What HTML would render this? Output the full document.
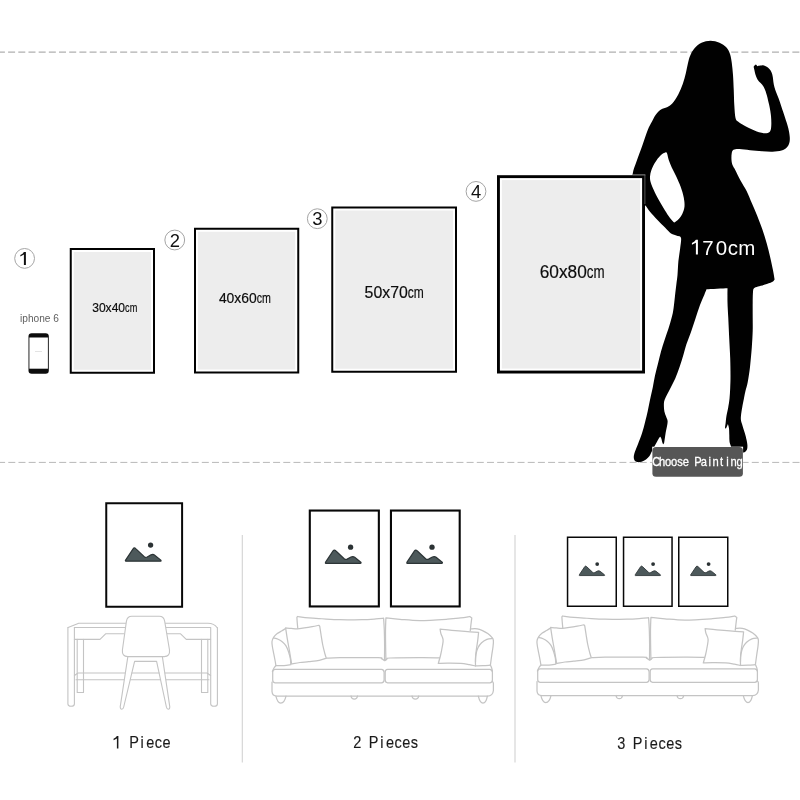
<!DOCTYPE html>
<html><head><meta charset="utf-8"><title>Size guide</title>
<style>
html,body{margin:0;padding:0;background:#fff;}
body{width:800px;height:800px;overflow:hidden;font-family:'Liberation Sans',sans-serif;}
svg{display:block;}
</style></head><body>
<svg width="800" height="800" viewBox="0 0 800 800" font-family="'Liberation Sans', sans-serif">
<defs>
<g id="mtn"><path d="M1.3,-0.6 Q0.4,-0.7 1,-1.7 L8.5,-13 Q9.7,-14.6 11.1,-13.2 L19.6,-5.2 Q21,-4 22.6,-4.8 L26.4,-6.9 Q28.5,-7.9 30.1,-6.6 L36.2,-1.7 Q37,-0.6 35.6,-0.6 Z" fill="#4d595b" stroke="#2c3436" stroke-width="1.2" stroke-linejoin="round"/><circle cx="26" cy="-16.7" r="2.65" fill="#2b3234"/></g>
</defs>
<rect width="800" height="800" fill="#fff"/>
<g opacity="0.999">
<line x1="-2.085" y1="52.1" x2="800" y2="52.2" stroke="#b0b0b0" stroke-width="1.15" stroke-dasharray="7 3.185"/>
<line x1="-1.9" y1="462.4" x2="800" y2="462.4" stroke="#b8b8b8" stroke-width="1.0" stroke-dasharray="7 3.185"/>
<path d="M710.50,40.80 C713.50,40.80 716.88,41.67 719.50,42.75 C722.12,43.83 724.50,45.38 726.25,47.25 C728.00,49.12 729.08,51.38 730.00,54.00 C730.92,56.62 731.30,59.50 731.80,63.00 C732.30,66.50 732.67,70.50 733.00,75.00 C733.33,79.50 733.53,85.00 733.75,90.00 C733.97,95.00 734.01,100.33 734.30,105.00 C734.59,109.67 734.88,115.25 735.50,118.00 C736.12,120.75 736.83,120.42 738.00,121.50 C739.17,122.58 740.50,123.33 742.50,124.50 C744.50,125.67 747.25,127.20 750.00,128.50 C752.75,129.80 756.25,131.51 759.00,132.30 C761.75,133.09 764.62,133.47 766.50,133.25 C768.38,133.03 769.45,132.38 770.25,131.00 C771.05,129.62 771.17,127.50 771.30,125.00 C771.42,122.50 771.28,119.00 771.00,116.00 C770.72,113.00 770.08,109.57 769.60,107.00 C769.12,104.43 768.55,102.50 768.10,100.60 C767.65,98.70 767.32,97.16 766.90,95.60 C766.48,94.04 766.12,92.70 765.60,91.25 C765.08,89.80 764.58,88.26 763.75,86.90 C762.92,85.54 761.64,84.35 760.60,83.10 C759.56,81.85 758.33,80.75 757.50,79.40 C756.67,78.05 756.12,76.57 755.60,75.00 C755.08,73.43 754.71,71.40 754.40,70.00 C754.09,68.60 753.50,67.52 753.75,66.60 C754.00,65.68 755.54,64.85 755.90,64.50 C756.17,64.79 757.23,65.96 757.50,66.25 C757.92,66.14 759.07,65.76 760.00,65.60 C760.93,65.44 762.06,65.13 763.10,65.30 C764.14,65.47 765.20,65.97 766.25,66.60 C767.30,67.23 768.51,68.12 769.40,69.10 C770.29,70.08 771.03,71.20 771.60,72.50 C772.17,73.80 772.50,75.33 772.80,76.90 C773.10,78.47 773.13,80.23 773.40,81.90 C773.67,83.57 773.92,85.13 774.40,86.90 C774.88,88.67 775.52,90.53 776.25,92.50 C776.98,94.47 777.88,96.33 778.75,98.75 C779.62,101.17 780.46,103.88 781.50,107.00 C782.54,110.12 783.88,114.00 785.00,117.50 C786.12,121.00 787.46,124.75 788.25,128.00 C789.04,131.25 789.58,134.50 789.75,137.00 C789.92,139.50 789.80,141.25 789.30,143.00 C788.80,144.75 788.05,146.25 786.75,147.50 C785.45,148.75 783.88,149.80 781.50,150.50 C779.12,151.20 775.75,151.57 772.50,151.70 C769.25,151.82 765.75,151.50 762.00,151.25 C758.25,151.00 753.75,150.57 750.00,150.20 C746.25,149.82 742.25,149.07 739.50,149.00 C736.75,148.93 734.80,149.00 733.50,149.75 C732.20,150.50 732.03,151.79 731.70,153.50 C731.37,155.21 731.37,158.08 731.50,160.00 C731.63,161.92 731.88,163.33 732.50,165.00 C733.12,166.67 733.92,167.42 735.25,170.00 C736.58,172.58 738.61,177.00 740.50,180.50 C742.39,184.00 744.70,187.21 746.60,191.00 C748.50,194.79 750.15,199.17 751.90,203.25 C753.65,207.33 755.35,211.12 757.10,215.50 C758.85,219.88 760.79,224.83 762.40,229.50 C764.01,234.17 765.44,238.83 766.75,243.50 C768.06,248.17 769.23,253.12 770.25,257.50 C771.27,261.88 772.17,266.10 772.90,269.75 C773.62,273.40 774.32,277.79 774.60,279.40 C774.17,279.83 773.60,281.13 772.00,282.00 C770.40,282.87 767.33,283.87 765.00,284.60 C762.67,285.33 759.83,285.80 758.00,286.40 C756.17,287.00 754.83,287.27 754.00,288.20 C753.17,289.13 753.22,289.62 753.00,292.00 C752.78,294.38 752.75,298.25 752.70,302.50 C752.65,306.75 752.70,312.75 752.70,317.50 C752.70,322.25 752.85,326.00 752.70,331.00 C752.55,336.00 752.25,341.50 751.80,347.50 C751.35,353.50 750.67,361.25 750.00,367.00 C749.33,372.75 748.54,377.83 747.75,382.00 C746.96,386.17 745.89,389.21 745.25,392.00 C744.61,394.79 744.41,396.17 743.90,398.75 C743.39,401.33 742.68,404.73 742.20,407.50 C741.72,410.27 741.20,413.22 741.00,415.40 C740.80,417.58 740.73,418.85 741.00,420.60 C741.27,422.35 741.97,423.85 742.60,425.90 C743.23,427.95 744.13,430.57 744.80,432.90 C745.47,435.23 746.17,437.87 746.60,439.90 C747.03,441.93 747.33,443.50 747.40,445.10 C747.47,446.70 747.43,448.33 747.00,449.50 C746.57,450.67 745.45,451.58 744.80,452.10 C744.15,452.62 744.23,452.45 743.10,452.60 C741.97,452.75 739.68,453.10 738.00,453.00 C736.32,452.90 734.20,453.17 733.00,452.00 C731.80,450.83 731.38,447.73 730.80,446.00 C730.22,444.27 729.75,443.35 729.50,441.60 C729.25,439.85 729.38,437.68 729.30,435.50 C729.22,433.32 729.23,430.40 729.00,428.50 C728.77,426.60 728.08,424.83 727.90,424.10 C727.58,424.83 726.49,427.92 726.00,428.50 C725.51,429.08 725.12,427.75 724.95,427.60 C725.06,426.88 725.36,425.14 725.60,423.25 C725.84,421.36 725.97,418.88 726.40,416.25 C726.83,413.62 727.68,410.42 728.20,407.50 C728.72,404.58 729.17,402.00 729.50,398.75 C729.83,395.50 730.03,391.79 730.20,388.00 C730.37,384.21 730.50,381.00 730.50,376.00 C730.50,371.00 730.40,364.00 730.20,358.00 C730.00,352.00 729.62,346.75 729.30,340.00 C728.97,333.25 728.55,323.75 728.25,317.50 C727.95,311.25 727.62,307.38 727.50,302.50 C727.38,297.62 727.50,290.62 727.50,288.25 C724.00,288.43 710.00,289.12 706.50,289.30 C706.12,290.25 705.33,292.38 704.25,295.00 C703.17,297.62 701.46,301.08 700.00,305.00 C698.54,308.92 697.00,314.00 695.50,318.50 C694.00,323.00 692.50,327.75 691.00,332.00 C689.50,336.25 687.75,340.25 686.50,344.00 C685.25,347.75 684.62,350.75 683.50,354.50 C682.38,358.25 681.12,362.50 679.75,366.50 C678.38,370.50 676.88,374.75 675.25,378.50 C673.62,382.25 671.75,385.50 670.00,389.00 C668.25,392.50 665.77,396.79 664.75,399.50 C663.73,402.21 663.96,403.27 663.90,405.25 C663.84,407.23 664.03,409.51 664.40,411.40 C664.77,413.29 665.57,415.00 666.10,416.60 C666.63,418.20 667.45,419.39 667.60,421.00 C667.75,422.61 667.32,424.35 667.00,426.25 C666.68,428.15 666.07,430.36 665.70,432.40 C665.33,434.44 665.07,436.75 664.80,438.50 C664.53,440.25 664.40,441.95 664.10,442.90 C663.80,443.85 663.18,443.98 663.00,444.20 C662.87,443.83 662.48,442.95 662.20,442.00 C661.92,441.05 661.67,439.38 661.30,438.50 C660.93,437.62 660.65,436.32 660.00,436.75 C659.35,437.18 658.35,439.43 657.40,441.10 C656.45,442.78 655.03,445.48 654.30,446.80 C653.57,448.12 653.51,448.05 653.00,449.00 C652.49,449.95 651.83,451.33 651.25,452.50 C650.67,453.67 650.38,454.83 649.50,456.00 C648.62,457.17 647.32,458.55 646.00,459.50 C644.68,460.45 643.06,461.27 641.60,461.70 C640.14,462.13 638.42,462.32 637.25,462.10 C636.08,461.88 635.18,461.27 634.60,460.40 C634.02,459.53 633.68,458.37 633.75,456.90 C633.82,455.43 634.27,453.79 635.00,451.60 C635.73,449.41 636.93,446.81 638.10,443.75 C639.27,440.69 640.83,436.89 642.00,433.25 C643.17,429.61 644.15,425.57 645.10,421.90 C646.05,418.22 646.83,415.10 647.70,411.20 C648.57,407.30 649.46,402.45 650.30,398.50 C651.14,394.55 651.97,391.33 652.75,387.50 C653.53,383.67 654.12,379.50 655.00,375.50 C655.88,371.50 657.00,367.50 658.00,363.50 C659.00,359.50 659.88,355.50 661.00,351.50 C662.12,347.50 663.38,343.75 664.75,339.50 C666.12,335.25 667.91,330.42 669.25,326.00 C670.59,321.58 671.97,316.83 672.80,313.00 C673.62,309.17 673.78,306.33 674.20,303.00 C674.62,299.67 674.93,296.17 675.30,293.00 C675.67,289.83 676.03,287.00 676.40,284.00 C676.77,281.00 677.17,278.83 677.50,275.00 C677.83,271.17 677.97,265.38 678.40,261.00 C678.83,256.62 679.67,252.58 680.10,248.75 C680.53,244.92 681.52,240.17 681.00,238.00 C680.48,235.83 678.67,236.50 677.00,235.75 C675.33,235.00 673.00,234.88 671.00,233.50 C669.00,232.12 667.25,229.75 665.00,227.50 C662.75,225.25 660.00,222.62 657.50,220.00 C655.00,217.38 652.12,214.25 650.00,211.75 C647.88,209.25 647.08,206.96 644.75,205.00 C642.42,203.04 638.12,202.50 636.00,200.00 C633.88,197.50 632.54,194.42 632.00,190.00 C631.46,185.58 632.00,178.25 632.75,173.50 C633.50,168.75 634.88,166.25 636.50,161.50 C638.12,156.75 640.62,150.25 642.50,145.00 C644.38,139.75 646.17,133.92 647.75,130.00 C649.33,126.08 650.67,124.04 652.00,121.50 C653.33,118.96 654.25,116.75 655.75,114.75 C657.25,112.75 659.12,110.75 661.00,109.50 C662.88,108.25 665.12,108.25 667.00,107.25 C668.88,106.25 670.38,105.62 672.25,103.50 C674.12,101.38 676.50,97.75 678.25,94.50 C680.00,91.25 681.50,87.50 682.75,84.00 C684.00,80.50 684.88,77.00 685.75,73.50 C686.62,70.00 687.25,66.00 688.00,63.00 C688.75,60.00 689.12,58.00 690.25,55.50 C691.38,53.00 692.88,50.12 694.75,48.00 C696.62,45.88 698.88,43.95 701.50,42.75 C704.12,41.55 707.50,40.80 710.50,40.80Z" fill="#000"/>
<path d="M665.75,152.20 C664.62,152.45 662.25,153.82 660.50,155.50 C658.75,157.18 656.75,159.88 655.25,162.25 C653.75,164.62 652.38,167.38 651.50,169.75 C650.62,172.12 650.12,174.38 650.00,176.50 C649.88,178.62 650.12,180.25 650.75,182.50 C651.38,184.75 652.50,187.25 653.75,190.00 C655.00,192.75 656.62,196.00 658.25,199.00 C659.88,202.00 661.75,205.12 663.50,208.00 C665.25,210.88 667.12,213.95 668.75,216.25 C670.38,218.55 672.25,220.80 673.25,221.80 C674.25,222.80 673.88,222.68 674.75,222.25 C675.62,221.82 677.25,220.62 678.50,219.25 C679.75,217.88 681.25,216.12 682.25,214.00 C683.25,211.88 684.25,209.25 684.50,206.50 C684.75,203.75 684.38,200.75 683.75,197.50 C683.12,194.25 682.00,190.50 680.75,187.00 C679.50,183.50 677.75,179.75 676.25,176.50 C674.75,173.25 673.00,170.25 671.75,167.50 C670.50,164.75 669.50,162.25 668.75,160.00 C668.00,157.75 667.75,155.30 667.25,154.00 C666.75,152.70 666.88,151.95 665.75,152.20Z" fill="#fff"/>
<path d="M695.90,239.80 L697.90,239.80 L697.90,254.50 L695.90,254.50 L695.90,242.74 L691.93,244.87 L691.93,243.11 Q694.87,241.86 695.90,239.80Z" fill="#fff"/>
<text x="707.90" y="254.5" font-size="20.5" text-anchor="middle" fill="#fff">7</text>
<text x="721.50" y="254.5" font-size="20.5" text-anchor="middle" fill="#fff">0</text>
<text x="732.80" y="254.5" font-size="20.5" text-anchor="middle" fill="#fff">c</text>
<text x="746.70" y="254.5" font-size="20.5" text-anchor="middle" fill="#fff">m</text>
<rect x="69.75" y="248.00" width="85.25" height="125.75" fill="#000"/><rect x="71.75" y="250.00" width="81.25" height="121.75" fill="#fff"/><rect x="73.75" y="252.00" width="77.25" height="117.75" fill="#ededed"/>
<rect x="194.00" y="227.75" width="105.25" height="145.75" fill="#000"/><rect x="196.00" y="229.75" width="101.25" height="141.75" fill="#fff"/><rect x="198.00" y="231.75" width="97.25" height="137.75" fill="#ededed"/>
<rect x="331.25" y="206.50" width="125.75" height="166.25" fill="#000"/><rect x="333.25" y="208.50" width="121.75" height="162.25" fill="#fff"/><rect x="335.25" y="210.50" width="117.75" height="158.25" fill="#ededed"/>
<rect x="497.00" y="175.20" width="148.00" height="198.30" fill="#000"/><rect x="499.90" y="178.10" width="142.20" height="192.50" fill="#fff"/><rect x="501.90" y="180.10" width="138.20" height="188.50" fill="#ededed"/>
<line x1="632.6" y1="174.9" x2="645.4" y2="174.9" stroke="#b8b8b8" stroke-width="0.8"/>
<line x1="644.9" y1="175" x2="644.9" y2="204" stroke="#6a6a6a" stroke-width="0.8"/>
<text x="92.20" y="311.65" font-size="13.30" textLength="32.90" lengthAdjust="spacingAndGlyphs" fill="#0c0c0c" stroke="#0c0c0c" stroke-width="0.18">30x40</text><text x="125.10" y="311.65" font-size="13.30" textLength="12.20" lengthAdjust="spacingAndGlyphs" fill="#0c0c0c" stroke="#0c0c0c" stroke-width="0.18">cm</text>
<text x="218.90" y="302.50" font-size="14.70" textLength="37.90" lengthAdjust="spacingAndGlyphs" fill="#0c0c0c" stroke="#0c0c0c" stroke-width="0.18">40x60</text><text x="256.80" y="302.50" font-size="14.70" textLength="14.20" lengthAdjust="spacingAndGlyphs" fill="#0c0c0c" stroke="#0c0c0c" stroke-width="0.18">cm</text>
<text x="364.60" y="297.50" font-size="16.30" textLength="43.20" lengthAdjust="spacingAndGlyphs" fill="#0c0c0c" stroke="#0c0c0c" stroke-width="0.18">50x70</text><text x="407.80" y="297.50" font-size="16.30" textLength="16.00" lengthAdjust="spacingAndGlyphs" fill="#0c0c0c" stroke="#0c0c0c" stroke-width="0.18">cm</text>
<text x="539.70" y="277.50" font-size="18.00" textLength="47.10" lengthAdjust="spacingAndGlyphs" fill="#0c0c0c" stroke="#0c0c0c" stroke-width="0.18">60x80</text><text x="586.80" y="277.50" font-size="18.00" textLength="17.80" lengthAdjust="spacingAndGlyphs" fill="#0c0c0c" stroke="#0c0c0c" stroke-width="0.18">cm</text>
<circle cx="24.60" cy="258.40" r="9.9" fill="none" stroke="#a4a4a4" stroke-width="1"/><path d="M23.90,252.00 L25.90,252.00 L25.90,265.10 L23.90,265.10 L23.90,254.62 L20.36,256.52 L20.36,254.95 Q22.98,253.83 23.90,252.00Z" fill="#111"/>
<circle cx="174.75" cy="240.00" r="9.9" fill="none" stroke="#a4a4a4" stroke-width="1"/><text x="174.75" y="246.70" font-size="18.4" text-anchor="middle" fill="#111">2</text>
<circle cx="317.30" cy="218.70" r="9.9" fill="none" stroke="#a4a4a4" stroke-width="1"/><text x="317.30" y="225.40" font-size="18.4" text-anchor="middle" fill="#111">3</text>
<circle cx="476.00" cy="191.40" r="9.9" fill="none" stroke="#a4a4a4" stroke-width="1"/><text x="476.00" y="198.10" font-size="18.4" text-anchor="middle" fill="#111">4</text>
<text x="39.5" y="321.6" font-size="10.15" text-anchor="middle" fill="#606060">iphone 6</text>
<rect x="28.5" y="333.3" width="20.3" height="40.5" rx="3.2" fill="#0c0c0c"/>
<rect x="29.4" y="337.5" width="18.5" height="31.2" fill="#fff"/>
<rect x="35" y="351" width="7" height="0.8" fill="#ddd"/>
<rect x="652.2" y="446.7" width="90.9" height="30.3" fill="#fff"/>
<rect x="652.4" y="446.9" width="90.5" height="29.9" rx="3.6" fill="#565656"/>
<text transform="translate(656.20,465.70) scale(0.860,1)" font-size="13.00" text-anchor="middle" fill="#fff" stroke="#fff" stroke-width="0.30">C</text><text transform="translate(662.15,465.70) scale(0.860,1)" font-size="13.00" text-anchor="middle" fill="#fff" stroke="#fff" stroke-width="0.30">h</text><text transform="translate(668.10,465.70) scale(0.860,1)" font-size="13.00" text-anchor="middle" fill="#fff" stroke="#fff" stroke-width="0.30">o</text><text transform="translate(674.05,465.70) scale(0.860,1)" font-size="13.00" text-anchor="middle" fill="#fff" stroke="#fff" stroke-width="0.30">o</text><text transform="translate(680.00,465.70) scale(0.860,1)" font-size="13.00" text-anchor="middle" fill="#fff" stroke="#fff" stroke-width="0.30">s</text><text transform="translate(685.95,465.70) scale(0.860,1)" font-size="13.00" text-anchor="middle" fill="#fff" stroke="#fff" stroke-width="0.30">e</text><text transform="translate(697.85,465.70) scale(0.860,1)" font-size="13.00" text-anchor="middle" fill="#fff" stroke="#fff" stroke-width="0.30">P</text><text transform="translate(703.80,465.70) scale(0.860,1)" font-size="13.00" text-anchor="middle" fill="#fff" stroke="#fff" stroke-width="0.30">a</text><text transform="translate(709.75,465.70) scale(0.860,1)" font-size="13.00" text-anchor="middle" fill="#fff" stroke="#fff" stroke-width="0.30">i</text><text transform="translate(715.70,465.70) scale(0.860,1)" font-size="13.00" text-anchor="middle" fill="#fff" stroke="#fff" stroke-width="0.30">n</text><text transform="translate(721.65,465.70) scale(0.860,1)" font-size="13.00" text-anchor="middle" fill="#fff" stroke="#fff" stroke-width="0.30">t</text><text transform="translate(727.60,465.70) scale(0.860,1)" font-size="13.00" text-anchor="middle" fill="#fff" stroke="#fff" stroke-width="0.30">i</text><text transform="translate(733.55,465.70) scale(0.860,1)" font-size="13.00" text-anchor="middle" fill="#fff" stroke="#fff" stroke-width="0.30">n</text><text transform="translate(739.50,465.70) scale(0.860,1)" font-size="13.00" text-anchor="middle" fill="#fff" stroke="#fff" stroke-width="0.30">g</text>
<line x1="242.3" y1="535" x2="242.3" y2="762.5" stroke="#d2d2d2" stroke-width="1.1"/>
<line x1="515" y1="535" x2="515" y2="762.5" stroke="#d2d2d2" stroke-width="1.1"/>
<rect x="106.25" y="503.25" width="75.85" height="103.50" fill="#fff" stroke="#080808" stroke-width="2.00"/><use href="#mtn" transform="translate(124.60,561.80) scale(1.000)"/>
<rect x="309.80" y="510.55" width="69.05" height="95.90" fill="#fff" stroke="#080808" stroke-width="2.10"/><use href="#mtn" transform="translate(324.60,563.90) scale(1.000)"/>
<rect x="390.95" y="510.55" width="68.75" height="95.90" fill="#fff" stroke="#080808" stroke-width="2.10"/><use href="#mtn" transform="translate(406.00,563.90) scale(1.000)"/>
<rect x="567.55" y="537.25" width="48.70" height="69.00" fill="#fff" stroke="#080808" stroke-width="1.50"/><use href="#mtn" transform="translate(578.60,576.00) scale(0.715)"/>
<rect x="623.55" y="537.25" width="48.50" height="69.00" fill="#fff" stroke="#080808" stroke-width="1.50"/><use href="#mtn" transform="translate(634.50,576.00) scale(0.715)"/>
<rect x="678.75" y="537.25" width="49.00" height="69.00" fill="#fff" stroke="#080808" stroke-width="1.50"/><use href="#mtn" transform="translate(690.00,576.00) scale(0.715)"/>
<path d="M116.90,736.01 L118.40,736.01 L118.40,748.40 L116.90,748.40 L116.90,738.49 L113.56,740.29 L113.56,738.80 Q116.03,737.75 116.90,736.01Z" fill="#1a1a1a"/><text transform="translate(134.04,748.40) scale(0.840,1)" font-size="17.30" text-anchor="middle" fill="#1a1a1a" stroke="#1a1a1a" stroke-width="0.15">P</text><text transform="translate(142.16,748.40) scale(0.840,1)" font-size="17.30" text-anchor="middle" fill="#1a1a1a" stroke="#1a1a1a" stroke-width="0.15">i</text><text transform="translate(150.28,748.40) scale(0.840,1)" font-size="17.30" text-anchor="middle" fill="#1a1a1a" stroke="#1a1a1a" stroke-width="0.15">e</text><text transform="translate(158.40,748.40) scale(0.840,1)" font-size="17.30" text-anchor="middle" fill="#1a1a1a" stroke="#1a1a1a" stroke-width="0.15">c</text><text transform="translate(166.52,748.40) scale(0.840,1)" font-size="17.30" text-anchor="middle" fill="#1a1a1a" stroke="#1a1a1a" stroke-width="0.15">e</text>
<text transform="translate(357.40,747.60) scale(0.840,1)" font-size="17.30" text-anchor="middle" fill="#1a1a1a" stroke="#1a1a1a" stroke-width="0.15">2</text><text transform="translate(373.70,747.60) scale(0.840,1)" font-size="17.30" text-anchor="middle" fill="#1a1a1a" stroke="#1a1a1a" stroke-width="0.15">P</text><text transform="translate(381.85,747.60) scale(0.840,1)" font-size="17.30" text-anchor="middle" fill="#1a1a1a" stroke="#1a1a1a" stroke-width="0.15">i</text><text transform="translate(390.00,747.60) scale(0.840,1)" font-size="17.30" text-anchor="middle" fill="#1a1a1a" stroke="#1a1a1a" stroke-width="0.15">e</text><text transform="translate(398.15,747.60) scale(0.840,1)" font-size="17.30" text-anchor="middle" fill="#1a1a1a" stroke="#1a1a1a" stroke-width="0.15">c</text><text transform="translate(406.30,747.60) scale(0.840,1)" font-size="17.30" text-anchor="middle" fill="#1a1a1a" stroke="#1a1a1a" stroke-width="0.15">e</text><text transform="translate(414.45,747.60) scale(0.840,1)" font-size="17.30" text-anchor="middle" fill="#1a1a1a" stroke="#1a1a1a" stroke-width="0.15">s</text>
<text transform="translate(621.30,748.70) scale(0.840,1)" font-size="17.30" text-anchor="middle" fill="#1a1a1a" stroke="#1a1a1a" stroke-width="0.15">3</text><text transform="translate(637.60,748.70) scale(0.840,1)" font-size="17.30" text-anchor="middle" fill="#1a1a1a" stroke="#1a1a1a" stroke-width="0.15">P</text><text transform="translate(645.75,748.70) scale(0.840,1)" font-size="17.30" text-anchor="middle" fill="#1a1a1a" stroke="#1a1a1a" stroke-width="0.15">i</text><text transform="translate(653.90,748.70) scale(0.840,1)" font-size="17.30" text-anchor="middle" fill="#1a1a1a" stroke="#1a1a1a" stroke-width="0.15">e</text><text transform="translate(662.05,748.70) scale(0.840,1)" font-size="17.30" text-anchor="middle" fill="#1a1a1a" stroke="#1a1a1a" stroke-width="0.15">c</text><text transform="translate(670.20,748.70) scale(0.840,1)" font-size="17.30" text-anchor="middle" fill="#1a1a1a" stroke="#1a1a1a" stroke-width="0.15">e</text><text transform="translate(678.35,748.70) scale(0.840,1)" font-size="17.30" text-anchor="middle" fill="#1a1a1a" stroke="#1a1a1a" stroke-width="0.15">s</text>
<g fill="none" stroke="#c4c4c4" stroke-width="1.1" stroke-linejoin="round" stroke-linecap="round">
<path d="M68.1,627.5 L78.75,623.3 H208 Q214,623.5 217,627.5"/>
<path d="M74.4,627.5 H125.2 M166,627.5 H210.6"/>
<path d="M67.9,627.5 V704 Q68,706.3 71,706.3 Q74.4,706.3 74.4,704 V627.5"/>
<path d="M210.7,627.5 V704 Q210.8,706.3 214,706.3 Q217.4,706.3 217.4,704 V627.5"/>
<path d="M74.4,639.4 H100 L105.6,633.8 H123.8 M167.2,633.8 H180.6 L186.25,639.4 H210.6"/>
<path d="M77.2,639.4 V692.5 H83.5 V639.4 M201.5,639.4 V692.5 H207.8 V639.4"/>
<path d="M74.4,675.5 L78,673 H125.2 M131.8,673 H159.2 M165.2,673 H207 L210.6,675.5"/>
<path d="M76,679.7 H124.2 M130.4,679.7 H160.6 M166.2,679.7 H209"/>
<path d="M131.8,616.3 H159.3 Q163.8,616.3 164.7,621.3 L169.5,650 Q170.2,656.6 164.2,656.6 H127.8 Q121.8,656.6 122.4,650 L126.4,621.3 Q127.3,616.3 131.8,616.3Z" fill="#fff"/>
<path d="M127.8,656.9 L120.2,706.8 Q120.3,709.2 121.8,709.2 Q123.2,709.2 123.7,707 L134.6,661.4 H156.6 L166.4,707 Q166.9,709.2 168.3,709.2 Q169.8,709.2 169.8,706.8 L162.4,656.9"/>
</g>
<g id="sofa" fill="none" stroke="#c4c4c4" stroke-width="1.25" stroke-linejoin="round" stroke-linecap="round"><path d="M297.80,628.80 C297.70,627.67 297.35,623.90 297.20,622.00 C297.05,620.10 296.95,618.17 296.90,617.40 C297.02,617.25 297.48,616.65 297.60,616.50 C299.46,616.73 304.70,617.52 308.75,617.90 C312.80,618.27 316.69,618.45 321.90,618.75 C327.11,619.05 333.32,619.56 340.00,619.70 C346.68,619.84 356.00,619.73 362.00,619.60 C368.00,619.47 372.40,619.13 376.00,618.90 C379.60,618.67 382.33,618.32 383.60,618.20 C383.72,620.17 384.13,625.53 384.30,630.00 C384.47,634.47 384.57,640.00 384.60,645.00 C384.63,650.00 384.52,657.50 384.50,660.00"/>
<path d="M385.90,660.00 C385.85,657.50 385.67,650.00 385.60,645.00 C385.53,640.00 385.45,634.52 385.50,630.00 C385.55,625.48 385.83,619.92 385.90,617.90 C388.25,618.13 394.32,618.87 400.00,619.30 C405.68,619.73 412.08,620.52 420.00,620.50 C427.92,620.48 440.73,619.63 447.50,619.20 C454.27,618.77 456.88,618.35 460.60,617.90 C464.32,617.45 468.27,616.73 469.80,616.50 C470.13,616.73 471.47,617.67 471.80,617.90 C471.67,618.92 471.26,621.88 471.00,624.00 C470.74,626.12 470.38,629.50 470.25,630.60"/>
<path d="M326.60,658.20 C328.83,658.12 331.43,657.78 340.00,657.70 C348.57,657.62 371.08,657.55 378.00,657.70 C384.92,657.85 380.42,658.12 381.50,658.60 C382.58,659.08 384.00,660.27 384.50,660.60"/>
<path d="M385.00,660.60 C385.33,660.33 386.17,659.43 387.00,659.00 C387.83,658.57 384.50,658.22 390.00,658.00 C395.50,657.78 411.73,657.73 420.00,657.70 C428.27,657.67 436.33,657.78 439.60,657.80"/>
<path d="M285.60,627.90 C286.54,627.98 289.28,628.25 291.25,628.40 C293.22,628.55 295.21,628.88 297.40,628.80 C299.59,628.72 301.92,628.27 304.40,627.90 C306.88,627.53 309.85,627.03 312.25,626.60 C314.65,626.17 317.71,625.52 318.80,625.30 C318.95,625.45 319.55,626.05 319.70,626.20 C319.92,627.58 320.49,631.37 321.00,634.50 C321.51,637.63 322.10,641.79 322.75,645.00 C323.40,648.21 324.32,651.57 324.90,653.75 C325.48,655.93 326.02,657.38 326.25,658.10 C325.08,658.47 322.17,659.72 319.25,660.30 C316.33,660.88 311.96,661.23 308.75,661.60 C305.54,661.97 302.86,662.12 300.00,662.50 C297.14,662.88 293.00,663.67 291.60,663.90 C291.25,661.77 290.22,655.27 289.50,651.10 C288.78,646.93 287.95,642.77 287.30,638.90 C286.65,635.03 285.88,629.73 285.60,627.90Z" fill="#fff"/>
<path d="M440.10,629.10 C442.07,629.30 447.75,629.92 451.90,630.30 C456.05,630.68 460.55,631.07 465.00,631.40 C469.45,631.73 476.33,632.15 478.60,632.30 C478.45,633.68 478.07,637.75 477.70,640.60 C477.33,643.45 476.77,646.48 476.40,649.40 C476.03,652.32 475.65,655.33 475.50,658.10 C475.35,660.87 475.50,664.68 475.50,666.00 C474.48,665.78 471.88,665.13 469.40,664.70 C466.92,664.27 464.25,663.65 460.60,663.40 C456.95,663.15 451.22,663.20 447.50,663.20 C443.78,663.20 439.83,663.37 438.30,663.40 C438.67,662.08 439.84,658.27 440.50,655.50 C441.16,652.73 441.82,649.38 442.25,646.75 C442.68,644.12 443.33,641.94 443.10,639.75 C442.88,637.56 441.40,635.38 440.90,633.60 C440.40,631.83 440.23,629.85 440.10,629.10Z" fill="#fff"/>
<path d="M285.10,628.80 C284.52,629.17 282.91,630.20 281.60,631.00 C280.29,631.80 278.56,632.58 277.25,633.60 C275.94,634.62 274.62,635.78 273.75,637.10 C272.88,638.42 272.23,639.89 272.00,641.50 C271.77,643.11 272.11,644.71 272.40,646.75 C272.69,648.79 273.30,651.42 273.75,653.75 C274.20,656.08 274.74,658.77 275.10,660.75 C275.46,662.73 275.77,664.79 275.90,665.60 C275.58,666.00 274.58,667.02 274.00,668.00 C273.42,668.98 272.67,670.92 272.40,671.50"/>
<path d="M273.50,638.00 C274.27,638.22 276.60,638.65 278.10,639.30 C279.60,639.95 281.18,640.80 282.50,641.90 C283.82,643.00 284.98,644.22 286.00,645.90 C287.02,647.58 287.87,649.82 288.60,652.00 C289.33,654.18 290.03,656.88 290.40,659.00 C290.77,661.12 290.73,663.75 290.80,664.70 C289.67,664.85 286.48,665.45 284.00,665.60 C281.52,665.75 277.25,665.60 275.90,665.60"/>
<path d="M470.70,628.80 C471.79,628.80 475.28,628.50 477.25,628.80 C479.22,629.10 480.75,629.80 482.50,630.60 C484.25,631.40 486.15,632.43 487.75,633.60 C489.35,634.77 491.16,636.43 492.10,637.60 C493.04,638.77 493.25,639.08 493.40,640.60 C493.55,642.12 493.28,644.27 493.00,646.75 C492.72,649.23 492.13,652.44 491.70,655.50 C491.27,658.56 490.62,663.50 490.40,665.10 C490.63,665.65 491.47,667.33 491.80,668.40 C492.13,669.47 492.30,670.98 492.40,671.50"/>
<path d="M492.60,638.40 C491.65,638.55 488.73,638.57 486.90,639.30 C485.07,640.03 483.07,641.42 481.60,642.80 C480.13,644.18 479.05,645.63 478.10,647.60 C477.15,649.57 476.33,652.20 475.90,654.60 C475.47,657.00 475.57,660.77 475.50,662.00"/>
<path d="M475.50,665.80 C476.75,665.78 480.52,665.80 483.00,665.70 C485.48,665.60 489.17,665.28 490.40,665.20"/>
<path d="M275,669.3 H381.5 Q384,669.6 384.1,672.2 V680 Q384,682.7 381.5,682.8 H275 Q272.7,682.6 272.7,680 V672 Q272.7,669.5 275,669.3Z"/>
<path d="M387.6,669.3 H489.8 Q492.3,669.6 492.4,672.2 V680 Q492.3,682.7 489.8,682.8 H387.6 Q385.2,682.6 385.2,680 V672 Q385.2,669.5 387.6,669.3Z"/>
<path d="M272,682 V691.5 Q272.3,696.1 277,696.1 H487.5 Q492.8,696.1 493.4,690.5 V683.5 Q493.4,682.6 492.4,681.5"/>
<path d="M275.9,696.2 Q277.5,703.1 280.75,703.1 Q284.5,703.1 286,696.2"/>
<path d="M478.3,696.2 Q480,703.2 483,703.2 Q486,703.2 487.4,696.2"/>
<path d="M351,696 Q351.5,699.2 354.3,699.2 Q357,699.2 357.5,696"/>
<path d="M412,696 Q412.5,699.2 415.4,699.2 Q418.2,699.2 418.75,696"/></g>
<use href="#sofa" transform="translate(265,-0.5)"/>
</g>
</svg>
</body></html>
